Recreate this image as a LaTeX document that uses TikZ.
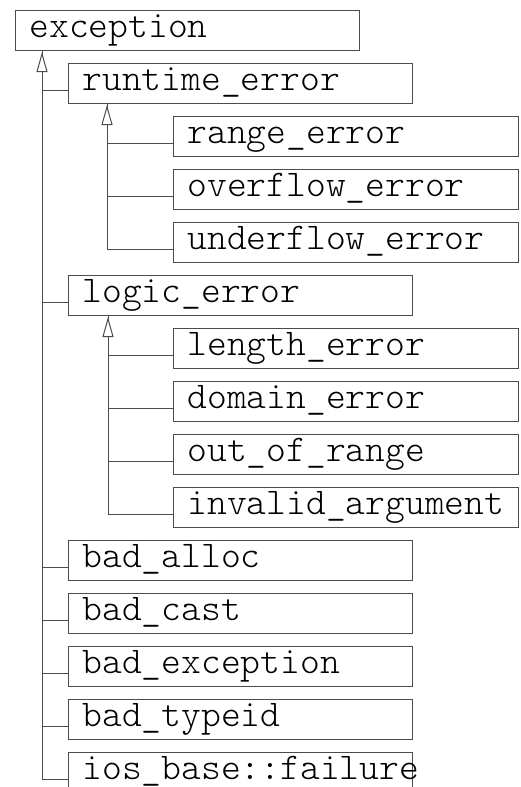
\documentclass[tikz,border=0pt]{standalone}
\usepackage{fontspec}
\setmonofont{Latin Modern Mono Light}
\usetikzlibrary{arrows.meta,calc}
\tikzset{
  cls/.style={draw=black!70, line width=1pt, rectangle, anchor=north west,
    minimum height=40pt, inner xsep=14pt, inner ysep=0pt,
    text width=#1-28pt, align=left,
    text height=20pt, text depth=6pt,
    font=\ttfamily\fontsize{37.7}{37.7}\selectfont},
  cls/.default=344pt,
  conn/.style={draw=black!70, line width=1pt},
  inh/.style={draw=black!70, line width=1pt,
    -{Triangle[length=20pt, width=11pt, fill=white]}}
}
\begin{document}
\begin{tikzpicture}[x=1pt, y=-1pt]
\clip (0,0) rectangle (521,787);
\fill[white] (0,0) rectangle (521,787);

% class boxes
\node[cls]        (exc)  at (15,10)  {exception};
\node[cls]        (rt)   at (68,63)  {runtime\_error};
\node[cls=345pt]  (rng)  at (173,116) {range\_error};
\node[cls=345pt]  (ovf)  at (173,169) {overflow\_error};
\node[cls=345pt]  (unf)  at (173,222) {underflow\_error};
\node[cls]        (lg)   at (68,275) {logic\_error};
\node[cls=345pt]  (len)  at (173,328) {length\_error};
\node[cls=345pt]  (dom)  at (173,381) {domain\_error};
\node[cls=345pt]  (oor)  at (173,434) {out\_of\_range};
\node[cls=345pt]  (inv)  at (173,487) {invalid\_argument};
\node[cls]        (ba)   at (68,540) {bad\_alloc};
\node[cls]        (bc)   at (68,593) {bad\_cast};
\node[cls]        (be)   at (68,646) {bad\_exception};
\node[cls]        (bt)   at (68,699) {bad\_typeid};
\node[cls]        (ios)  at (68,752) {ios\_base::failure};

% trunk origins under each base class
\coordinate (excT) at ([xshift=27pt]exc.south west);
\coordinate (rtT)  at ([xshift=39pt]rt.south west);
\coordinate (lgT)  at ([xshift=40pt]lg.south west);

% derived from exception
\draw[conn] (excT) |- (ios.base west);
\foreach \n in {rt,lg,ba,bc,be,bt}
  \draw[conn] (excT |- \n.base west) -- (\n.base west);

% derived from runtime_error
\draw[conn] (rtT) |- (unf.base west);
\foreach \n in {rng,ovf}
  \draw[conn] (rtT |- \n.base west) -- (\n.base west);

% derived from logic_error
\draw[conn] (lgT) |- (inv.base west);
\foreach \n in {len,dom,oor}
  \draw[conn] (lgT |- \n.base west) -- (\n.base west);

% inheritance arrow heads
\foreach \t in {excT,rtT,lgT}
  \draw[inh] ([yshift=-22pt]\t) -- ([yshift=-1pt]\t);
\end{tikzpicture}
\end{document}
